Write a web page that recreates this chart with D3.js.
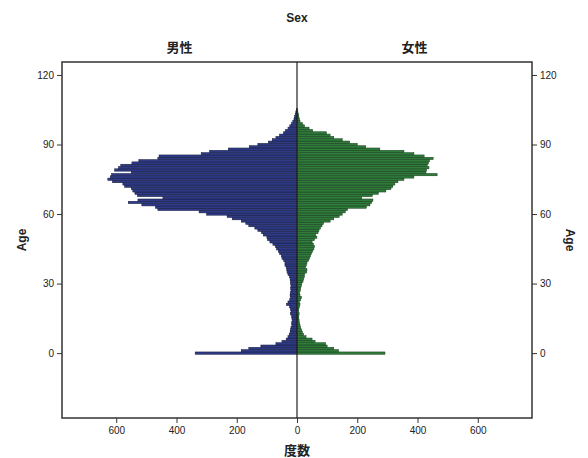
<!DOCTYPE html>
<html>
<head>
<meta charset="utf-8">
<script src="https://cdn.jsdelivr.net/npm/d3@7"></script>
<style>
  body { margin: 0; background: #fff; }
  text { font-family: "Liberation Sans", Arial, sans-serif; }
  .cjk { font-family: "Noto Sans CJK JP", "Noto Sans CJK SC", sans-serif; }
</style>
</head>
<body>
<div id="chart"></div>
<script>
// age 0..105, one bar per year
const ages = d3.range(0, 106)
const maleCounts = [
  338, 185, 160, 120, 70, 50, 36, 30, 26, 23,
  22, 20, 17, 18, 16, 17, 18, 22, 20, 22,
  25, 35, 30, 24, 22, 23, 22, 20, 21, 20,
  21, 22, 23, 25, 30, 33, 34, 36, 40, 40,
  44, 50, 52, 58, 62, 68, 72, 80, 90, 98,
  100, 112, 118, 130, 140, 160, 170, 185, 215, 232,
  300, 325, 462, 470, 515, 560, 528, 445, 530, 538,
  545, 550, 572, 578, 612, 628, 620, 615, 550, 605,
  592, 585, 548, 525, 462, 458, 318, 290, 228, 158,
  130, 95, 82, 70, 58, 45, 38, 30, 24, 18,
  14, 10, 8, 6, 4, 2
]
const femaleCounts = [
  292, 138, 122, 100, 95, 60, 50, 30, 22, 18,
  15, 12, 10, 8, 7, 6, 6, 7, 5, 6,
  8, 10, 8, 12, 15, 10, 9, 11, 12, 14,
  16, 20, 22, 24, 25, 32, 33, 28, 31, 33,
  38, 42, 45, 48, 52, 56, 58, 54, 50, 58,
  66, 62, 70, 73, 78, 83, 88, 110, 122, 140,
  150, 160, 168, 230, 242, 248, 252, 215, 250, 270,
  295, 312, 318, 325, 335, 355, 388, 465, 428, 430,
  438, 432, 436, 440, 452, 422, 388, 355, 275, 228,
  200, 175, 150, 122, 110, 98, 52, 40, 25, 18,
  10, 8, 6, 5, 3, 2
]
const countTicks = [0, 200, 400, 600]
const ageTicks = [0, 30, 60, 90, 120]
const sexLabels = ['男性', '女性']

const W = 588, H = 458
const pLeft = 62, pRight = 532, pTop = 62, pBottom = 418
const mid = 297

let svg = d3.select('#chart').append('svg')
  .attr('width', W)
  .attr('height', H)

let xMale = d3.scaleLinear().domain([780, 0]).range([pLeft, mid])
let xFemale = d3.scaleLinear().domain([0, 780]).range([mid, pRight])
let y = d3.scaleLinear().domain([-28, 125.6]).range([pBottom, pTop])
let band = y(0) - y(1)

// bars
let bars = svg.append('g')
bars.selectAll('.male')
  .data(ages)
  .enter().append('rect')
  .attr('class', 'male')
  .attr('x', d => xMale(maleCounts[d]))
  .attr('y', d => y(d + 0.5))
  .attr('width', d => mid - xMale(maleCounts[d]))
  .attr('height', band)
  .attr('fill', '#2e3a86')
  .attr('stroke', '#151a3c')
  .attr('stroke-width', 0.5)
bars.selectAll('.female')
  .data(ages)
  .enter().append('rect')
  .attr('class', 'female')
  .attr('x', mid)
  .attr('y', d => y(d + 0.5))
  .attr('width', d => xFemale(femaleCounts[d]) - mid)
  .attr('height', band)
  .attr('fill', '#2f7b3a')
  .attr('stroke', '#143a1a')
  .attr('stroke-width', 0.5)

// frame + middle line
svg.append('rect')
  .attr('x', pLeft).attr('y', pTop)
  .attr('width', pRight - pLeft).attr('height', pBottom - pTop)
  .attr('fill', 'none').attr('stroke', '#333').attr('stroke-width', 1.5)
svg.append('line')
  .attr('x1', mid).attr('x2', mid)
  .attr('y1', pTop).attr('y2', pBottom)
  .attr('stroke', '#222').attr('stroke-width', 1.2)

// axes
let styleAxis = g => {
  g.select('.domain').remove()
  g.selectAll('line').attr('stroke', '#333')
  g.selectAll('text').attr('font-size', 10).attr('fill', '#222')
    .attr('font-family', '"Liberation Sans", Arial, sans-serif')
}
svg.append('g')
  .attr('transform', `translate(0,${pBottom})`)
  .call(d3.axisBottom(xMale).tickValues(countTicks.slice(1)).tickSize(5).tickPadding(4))
  .call(styleAxis)
svg.append('g')
  .attr('transform', `translate(0,${pBottom})`)
  .call(d3.axisBottom(xFemale).tickValues(countTicks).tickSize(5).tickPadding(4))
  .call(styleAxis)
svg.append('g')
  .attr('transform', `translate(${pLeft},0)`)
  .call(d3.axisLeft(y).tickValues(ageTicks).tickSize(5).tickPadding(3))
  .call(styleAxis)
svg.append('g')
  .attr('transform', `translate(${pRight},0)`)
  .call(d3.axisRight(y).tickValues(ageTicks).tickSize(5).tickPadding(3))
  .call(styleAxis)

// titles
svg.append('text')
  .attr('x', mid).attr('y', 22)
  .attr('text-anchor', 'middle')
  .attr('font-size', 12).attr('font-weight', 'bold').attr('fill', '#222')
  .text('Sex')
svg.selectAll('.sex')
  .data(sexLabels)
  .enter().append('text')
  .attr('class', 'cjk')
  .attr('x', (d, i) => i === 0 ? (pLeft + mid) / 2 : (mid + pRight) / 2)
  .attr('y', 52)
  .attr('text-anchor', 'middle')
  .attr('font-size', 13).attr('font-weight', 'bold').attr('fill', '#222')
  .text(d => d)
svg.append('text')
  .attr('class', 'cjk')
  .attr('x', mid).attr('y', 455)
  .attr('text-anchor', 'middle')
  .attr('font-size', 13).attr('font-weight', 'bold').attr('fill', '#222')
  .text('度数')
svg.append('text')
  .attr('transform', `translate(26,${(pTop + pBottom) / 2}) rotate(-90)`)
  .attr('text-anchor', 'middle')
  .attr('font-size', 12).attr('font-weight', 'bold').attr('fill', '#222')
  .text('Age')
svg.append('text')
  .attr('transform', `translate(566,${(pTop + pBottom) / 2}) rotate(90)`)
  .attr('text-anchor', 'middle')
  .attr('font-size', 12).attr('font-weight', 'bold').attr('fill', '#222')
  .text('Age')
</script>
</body>
</html>
